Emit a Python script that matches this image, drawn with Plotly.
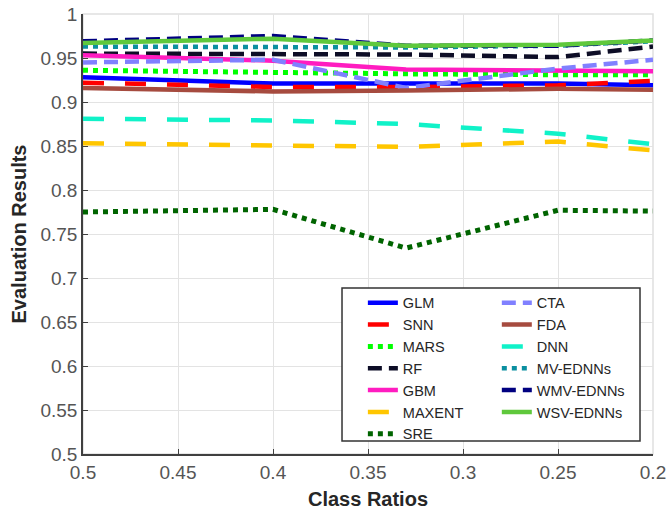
import plotly.graph_objects as go

# Class ratios at which every model was evaluated
class_ratios = [0.5, 0.4, 0.33, 0.25, 0.2]

# Evaluation results per model
glm = [0.928, 0.921, 0.921, 0.921, 0.919]
snn = [0.922, 0.917, 0.917, 0.919, 0.924]
mars = [0.936, 0.933, 0.932, 0.931, 0.931]
rf = [0.955, 0.955, 0.954, 0.951, 0.963]
gbm = [0.953, 0.947, 0.937, 0.936, 0.935]
maxent = [0.853, 0.850, 0.849, 0.855, 0.845]
sre = [0.775, 0.778, 0.734, 0.777, 0.776]
cta = [0.945, 0.948, 0.916, 0.938, 0.948]
fda = [0.916, 0.912, 0.913, 0.915, 0.914]
dnn = [0.881, 0.879, 0.875, 0.864, 0.852]
mv_ednns = [0.963, 0.962, 0.962, 0.964, 0.969]
wmv_ednns = [0.969, 0.975, 0.964, 0.964, 0.970]
wsv_ednns = [0.967, 0.972, 0.964, 0.965, 0.970]

x_ticks = [0.5, 0.45, 0.4, 0.35, 0.3, 0.25, 0.2]
y_ticks = [0.5, 0.55, 0.6, 0.65, 0.7, 0.75, 0.8, 0.85, 0.9, 0.95, 1.0]

DOT = "5px,5px"
DASH = "14px,7px"
LONG = "21px,21px"

# (name, values, colour, width, dash, legend column)
series = [
    ("GLM", glm, "#0000FF", 4.5, "solid", "legend"),
    ("SNN", snn, "#FF0000", 4.5, LONG, "legend"),
    ("MARS", mars, "#00FF00", 5, DOT, "legend"),
    ("RF", rf, "#0D0D26", 4.5, DASH, "legend"),
    ("GBM", gbm, "#FF1CC0", 4.5, "solid", "legend"),
    ("MAXENT", maxent, "#FFC600", 4.5, LONG, "legend"),
    ("SRE", sre, "#006400", 5, DOT, "legend"),
    ("CTA", cta, "#8080FF", 4.5, DASH, "legend2"),
    ("FDA", fda, "#A64B3F", 4.5, "solid", "legend2"),
    ("DNN", dnn, "#10F2C8", 4.5, LONG, "legend2"),
    ("MV-EDNNs", mv_ednns, "#0B8FA0", 4.5, DOT, "legend2"),
    ("WMV-EDNNs", wmv_ednns, "#000080", 4.5, DASH, "legend2"),
    ("WSV-EDNNs", wsv_ednns, "#5FC83C", 4.5, "solid", "legend2"),
]

fig = go.Figure()
for name, vals, color, width, dash, leg in series:
    fig.add_trace(go.Scatter(
        x=class_ratios, y=vals, name=name, mode="lines",
        line=dict(color=color, width=width, dash=dash),
        legend=leg,
    ))

FONT = "Arial, Liberation Sans, Helvetica, sans-serif"
legend_style = dict(
    bgcolor="rgba(0,0,0,0)", borderwidth=0,
    font=dict(family=FONT, size=14.5, color="#262626"),
    yanchor="top", xanchor="left", tracegroupgap=0,
)

axis_style = dict(
    ticks="inside", ticklen=5, tickcolor="#404040",
    showline=True, linecolor="#404040", linewidth=1.5,
    showgrid=True, gridcolor="#E3E3E3", gridwidth=1, zeroline=False,
    tickfont=dict(size=19, color="#555555"),
    ticklabeloverflow="allow",
    automargin=False,
)

fig.update_layout(
    width=666, height=512,
    margin=dict(l=83, r=13, t=14, b=58),
    paper_bgcolor="white", plot_bgcolor="white",
    font=dict(family=FONT, color="#555555"),
    legend=dict(x=0.491, y=0.380, **legend_style),
    legend2=dict(x=0.726, y=0.380, **legend_style),
    xaxis=dict(
        range=[0.5, 0.2], tickvals=x_ticks, ticktext=[f"{v:g}" for v in x_ticks],
        title=dict(text="<b>Class Ratios</b>", font=dict(size=20, color="#262626"), standoff=10),
        **axis_style,
    ),
    yaxis=dict(
        range=[0.5, 1.0], tickvals=y_ticks, ticktext=[f"{v:g}" for v in y_ticks],
        title=dict(text="<b>Evaluation Results</b>", font=dict(size=20, color="#262626"), standoff=8),
        **axis_style,
    ),
    shapes=[
        # light frame on the top and right of the axes box
        dict(type="rect", xref="paper", yref="paper", x0=0, x1=1, y0=0, y1=1,
             line=dict(color="#E0E0E0", width=1.5), layer="below"),
        # legend box
        dict(type="rect", xref="paper", yref="paper", x0=0.4544, x1=0.9772, y0=0.0295, y1=0.3773,
             line=dict(color="#333333", width=1.5), fillcolor="white", layer="above"),
    ],
)

fig.write_html("out.html")
